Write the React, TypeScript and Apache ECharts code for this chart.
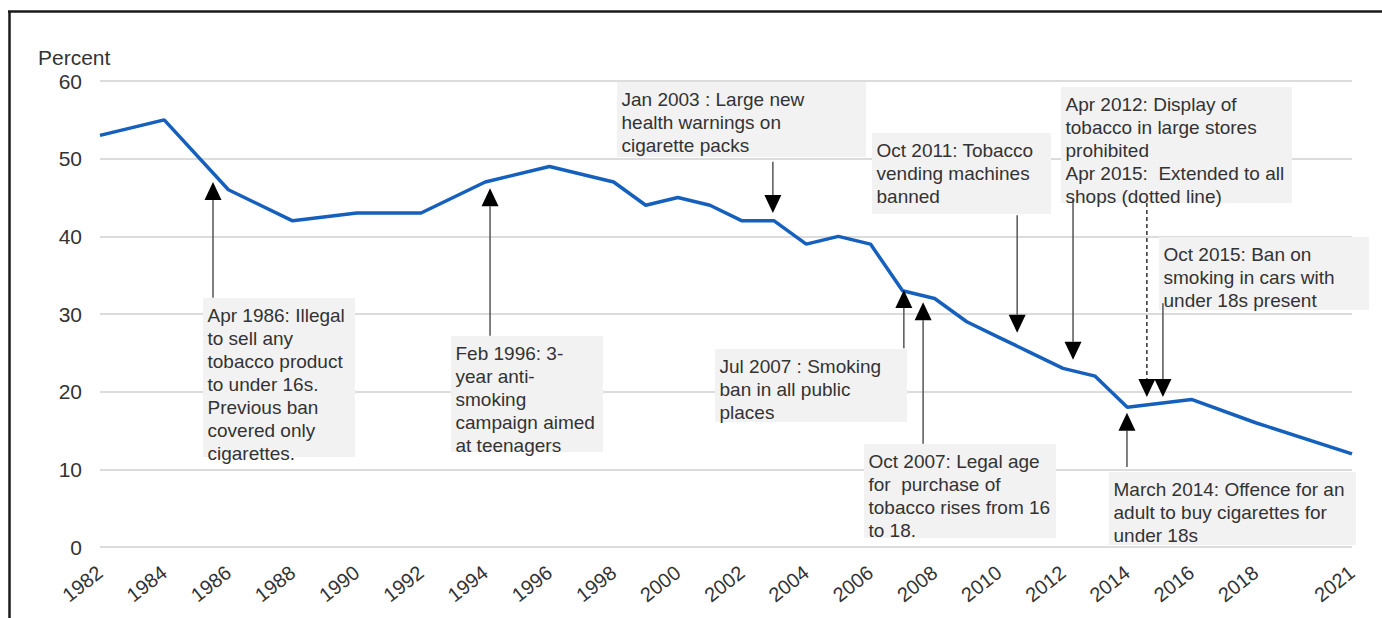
import React, { useEffect, useRef } from "react";
import * as echarts from "echarts";

const years = [1982, 1984, 1986, 1988, 1990, 1992, 1994, 1996, 1998, 1999, 2000, 2001, 2002, 2003, 2004, 2005, 2006, 2007, 2008, 2009, 2010, 2011, 2012, 2013, 2014, 2016, 2018, 2021];
const percent = [53, 55, 46, 42, 43, 43, 47, 49, 47, 44, 45, 44, 42, 42, 39, 40, 39, 33, 32, 29, 27, 25, 23, 22, 18, 19, 16, 12];
const xTickLabels = ["1982", "1984", "1986", "1988", "1990", "1992", "1994", "1996", "1998", "2000", "2002", "2004", "2006", "2008", "2010", "2012", "2014", "2016", "2018", "2021"];
const yTicks = [0, 10, 20, 30, 40, 50, 60];

// annotation boxes (pixel layout) and their arrows (data coordinates)
const notes = [
  { lines: ["Apr 1986: Illegal", "to sell any", "tobacco product", "to under 16s.", "Previous ban", "covered only", "cigarettes."], box: [203, 298, 152, 159] },
  { lines: ["Feb 1996: 3-", "year anti-", "smoking", "campaign aimed", "at teenagers"], box: [451, 336, 152, 116] },
  { lines: ["Jan 2003 : Large new", "health warnings on", "cigarette packs"], box: [617, 82, 249, 75] },
  { lines: ["Oct 2011: Tobacco", "vending machines", "banned"], box: [872, 133, 179, 81] },
  { lines: ["Apr 2012: Display of", "tobacco in large stores", "prohibited", "Apr 2015:  Extended to all", "shops (dotted line)"], box: [1061, 87, 231, 116] },
  { lines: ["Oct 2015: Ban on", "smoking in cars with", "under 18s present"], box: [1159, 237, 210, 73] },
  { lines: ["Jul 2007 : Smoking", "ban in all public", "places"], box: [715, 349, 192, 73] },
  { lines: ["Oct 2007: Legal age", "for  purchase of", "tobacco rises from 16", "to 18."], box: [864, 444, 192, 94] },
  { lines: ["March 2014: Offence for an", "adult to buy cigarettes for", "under 18s"], box: [1109, 472, 247, 73] },
];

// arrows: x (year), tail value, tip value, dashed
const arrows = [
  { x: 1985.52, tail: 32.1, tip: 47.0, dashed: false },
  { x: 1994.15, tail: 27.2, tip: 46.2, dashed: false },
  { x: 2002.96, tail: 49.6, tip: 43.0, dashed: false },
  { x: 2010.57, tail: 42.7, tip: 27.6, dashed: false },
  { x: 2012.31, tail: 44.7, tip: 24.1, dashed: false },
  { x: 2014.61, tail: 44.3, tip: 19.3, dashed: true },
  { x: 2015.11, tail: 31.4, tip: 19.3, dashed: false },
  { x: 2007.04, tail: 25.6, tip: 33.1, dashed: false },
  { x: 2007.64, tail: 13.3, tip: 31.5, dashed: false },
  { x: 2013.99, tail: 10.3, tip: 17.3, dashed: false },
];

const FONT = "'Liberation Sans', Arial, sans-serif";

export default function App() {
  const ref = useRef<HTMLDivElement>(null);
  useEffect(() => {
    if (!ref.current) return;
    const chart = echarts.init(ref.current, null, { renderer: "svg" });
    chart.setOption({
      animation: false,
      backgroundColor: "#ffffff",
      grid: { left: 100, right: 30, top: 81, bottom: 71, containLabel: false },
      xAxis: {
        type: "value",
        min: 1982,
        max: 2021,
        interval: 1,
        splitLine: { show: false },
        axisLine: { show: false },
        axisTick: { show: false },
        axisLabel: {
          rotate: 38,
          margin: 23,
          fontSize: 20,
          fontFamily: FONT,
          color: "#333333",
          formatter: (v: number) => (xTickLabels.includes(String(v)) ? String(v) : ""),
        },
      },
      yAxis: {
        type: "value",
        min: yTicks[0],
        max: yTicks[yTicks.length - 1],
        interval: 10,
        axisLine: { show: false },
        axisTick: { show: false },
        splitLine: { show: true, lineStyle: { color: "#dcdcdc", width: 1.8 } },
        axisLabel: { fontSize: 21, fontFamily: FONT, color: "#333333", margin: 18 },
      },
      series: [
        {
          type: "line",
          data: years.map((y, i) => [y, percent[i]]),
          symbol: "none",
          lineStyle: { color: "#1560bd", width: 3.5 },
          z: 2,
        },
      ],
    });

    const elements: any[] = [];
    // frame
    elements.push({ type: "line", shape: { x1: 9.5, y1: 11, x2: 9.5, y2: 640 }, style: { stroke: "#1a1a1a", lineWidth: 2.5 }, z: 5 });
    elements.push({ type: "line", shape: { x1: 8, y1: 11.5, x2: 1400, y2: 11.5 }, style: { stroke: "#1a1a1a", lineWidth: 2.5 }, z: 5 });
    elements.push({
      type: "text", x: 38, y: 57, z: 5,
      style: { text: "Percent", fontSize: 21, fontFamily: FONT, fill: "#333333", textVerticalAlign: "middle", verticalAlign: "middle" },
    });
    notes.forEach((n) => {
      const [bx, by, bw, bh] = n.box;
      elements.push({ type: "rect", shape: { x: bx, y: by, width: bw, height: bh }, style: { fill: "#f2f2f2" }, z: 1 });
      elements.push({
        type: "text", x: bx + 4.5, y: by + 6, z: 4,
        style: { text: n.lines.join("\n"), fontSize: 19, lineHeight: 23, fontFamily: FONT, fill: "#333333" },
      });
    });
    arrows.forEach((a) => {
      const tail = chart.convertToPixel({ gridIndex: 0 }, [a.x, a.tail]) as number[];
      const tip = chart.convertToPixel({ gridIndex: 0 }, [a.x, a.tip]) as number[];
      const dir = tip[1] < tail[1] ? -1 : 1;
      const headLen = 18;
      const half = 8.5;
      const base = tip[1] - dir * headLen;
      elements.push({
        type: "line",
        shape: { x1: tail[0], y1: tail[1], x2: tip[0], y2: base },
        style: { stroke: a.dashed ? "#333333" : "#555555", lineWidth: 1.5, lineDash: a.dashed ? [4, 3] : null },
        z: 3,
      });
      elements.push({
        type: "polygon",
        shape: { points: [[tip[0] - half, base], [tip[0] + half, base], [tip[0], tip[1]]] },
        style: { fill: "#000000" },
        z: 3,
      });
    });
    chart.setOption({ graphic: { elements } });
    return () => chart.dispose();
  }, []);
  return <div ref={ref} style={{ position: "fixed", left: 0, top: 0, width: 1382, height: 618 }} />;
}
